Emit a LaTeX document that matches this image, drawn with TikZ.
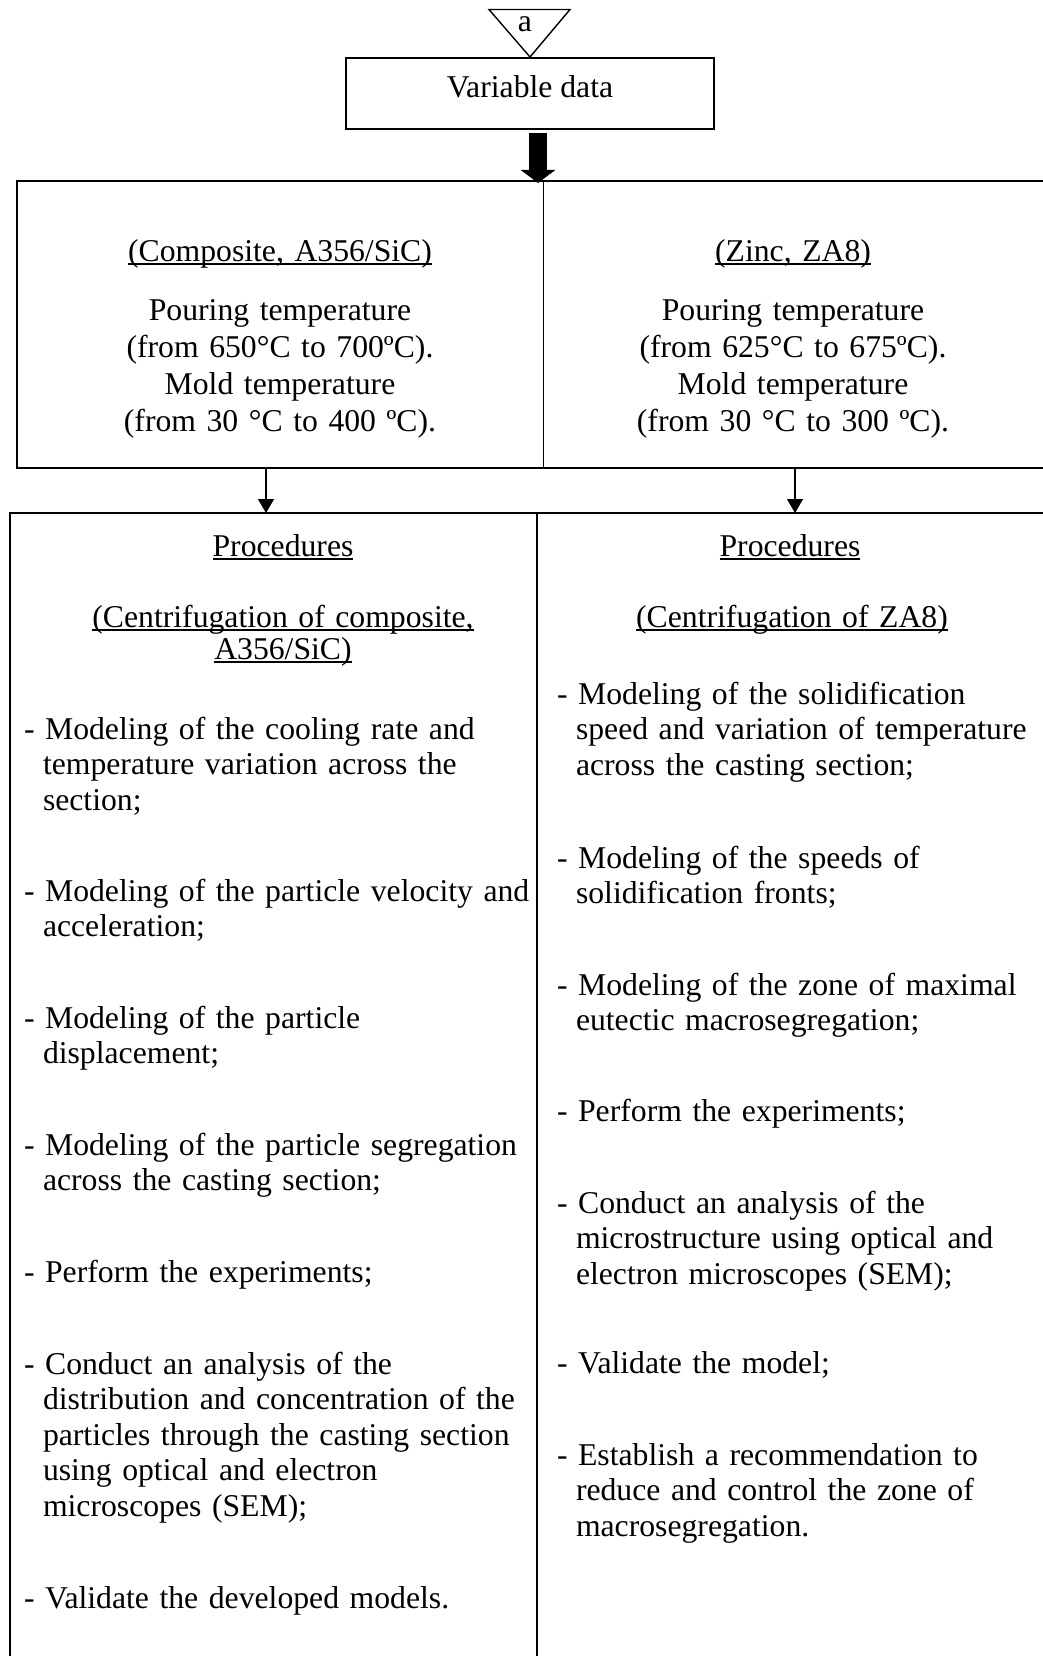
\documentclass[tikz,border=0pt]{standalone}
\usepackage{fontspec}
\setmainfont{Liberation Serif}
\usetikzlibrary{arrows.meta}
\newcommand\myul[1]{\setbox0\hbox{#1}\rlap{\rule[-3.6pt]{\wd0}{1.4pt}}\box0}
\newcommand\itemnl{\\\hspace*{19pt}}
\begin{document}
\begin{tikzpicture}[x=1pt,y=-1pt,
  txt/.style={font=\fontsize{31.7}{35.5}\selectfont, inner sep=0pt, outer sep=0pt},
  ctr/.style={txt, text width=520pt, align=center, anchor=base},
  lst/.style={txt, text width=620pt, align=left, anchor=base west},
  boxframe/.style={draw, line width=2pt, inner sep=0pt, outer sep=0pt, anchor=north west},
  thinarr/.style={line width=1.2pt, -{Triangle[width=16pt,length=14pt]}},
  thickarr/.style={line width=18pt, -{Triangle[width=34pt,length=13pt]}}]
\useasboundingbox (0,0) rectangle (1042,1656);
% off-page connector
\coordinate (tri1) at (489,9.5);
\coordinate (tri2) at (570,9.5);
\coordinate (tri3) at (530,57);
\draw[line width=1.4pt, line join=miter] (tri1) -- (tri2) -- (tri3) -- cycle;
\node[txt, anchor=base] (conn) at (525,32) {a};
% variable data
\node[boxframe, minimum width=368pt, minimum height=71pt, text height=22pt, text depth=13pt, font=\fontsize{31.7}{35.5}\selectfont] (vardata) at (346,58) {Variable data};
% top box
\node[boxframe, minimum width=1029pt, minimum height=287pt] (topbox) at (17,181) {};
\coordinate (topdiv) at (543.5,181);
\draw[line width=1.3pt] (topbox.north -| topdiv) -- (topbox.south -| topdiv);
% thick arrow
\coordinate (thA) at (538,133);
\coordinate (thB) at (538,183);
\draw[thickarr] (thA) -- (thB);
% top box texts
\node[ctr] (compt) at (280,261) {\myul{(Composite, A356/SiC)}};
\node[ctr, font=\fontsize{31.7}{37.3}\selectfont] (compd) at (280,320) {Pouring temperature\\(from 650°C to 700ºC).\\Mold temperature\\(from 30 °C to 400 ºC).};
\node[ctr] (zinct) at (793,261) {\myul{(Zinc, ZA8)}};
\node[ctr, font=\fontsize{31.7}{37.3}\selectfont] (zincd) at (793,320) {Pouring temperature\\(from 625°C to 675ºC).\\Mold temperature\\(from 30 °C to 300 ºC).};
% lower box
\node[boxframe, minimum width=1036pt, minimum height=1150pt] (lowbox) at (10,513) {};
\coordinate (lowdiv) at (537,513);
\draw[line width=1.4pt] (lowbox.north -| lowdiv) -- (lowbox.south -| lowdiv);
% thin arrows
\coordinate (la) at (266,500);
\coordinate (ra) at (795,500);
\draw[thinarr] (topbox.south -| la) -- (lowbox.north -| la);
\draw[thinarr] (topbox.south -| ra) -- (lowbox.north -| ra);
% lower left
\node[ctr] (procl) at (283,556) {\myul{Procedures}};
\node[ctr] (centl) at (283,627) {\myul{(Centrifugation of composite,}};
\node[ctr] (centl2) at (283,659) {\myul{A356/SiC)}};
\node[lst] (l1) at (24,739) {- Modeling of the cooling rate and\itemnl temperature variation across the\itemnl section;};
\node[lst] (l2) at (24,901) {- Modeling of the particle velocity and\itemnl acceleration;};
\node[lst] (l3) at (24,1028) {- Modeling of the particle\itemnl displacement;};
\node[lst] (l4) at (24,1155) {- Modeling of the particle segregation\itemnl across the casting section;};
\node[lst] (l5) at (24,1282) {- Perform the experiments;};
\node[lst] (l6) at (24,1374) {- Conduct an analysis of the\itemnl distribution and concentration of the\itemnl particles through the casting section\itemnl using optical and electron\itemnl microscopes (SEM);};
\node[lst] (l7) at (24,1608) {- Validate the developed models.};
% lower right
\node[ctr] (procr) at (790,556) {\myul{Procedures}};
\node[ctr] (centr) at (792,627) {\myul{(Centrifugation of ZA8)}};
\node[lst] (r1) at (557,704) {- Modeling of the solidification\itemnl speed and variation of temperature\itemnl across the casting section;};
\node[lst] (r2) at (557,868) {- Modeling of the speeds of\itemnl solidification fronts;};
\node[lst] (r3) at (557,995) {- Modeling of the zone of maximal\itemnl eutectic macrosegregation;};
\node[lst] (r4) at (557,1121) {- Perform the experiments;};
\node[lst] (r5) at (557,1213) {- Conduct an analysis of the\itemnl microstructure using optical and\itemnl electron microscopes (SEM);};
\node[lst] (r6) at (557,1373) {- Validate the model;};
\node[lst] (r7) at (557,1465) {- Establish a recommendation to\itemnl reduce and control the zone of\itemnl macrosegregation.};
\end{tikzpicture}
\end{document}
